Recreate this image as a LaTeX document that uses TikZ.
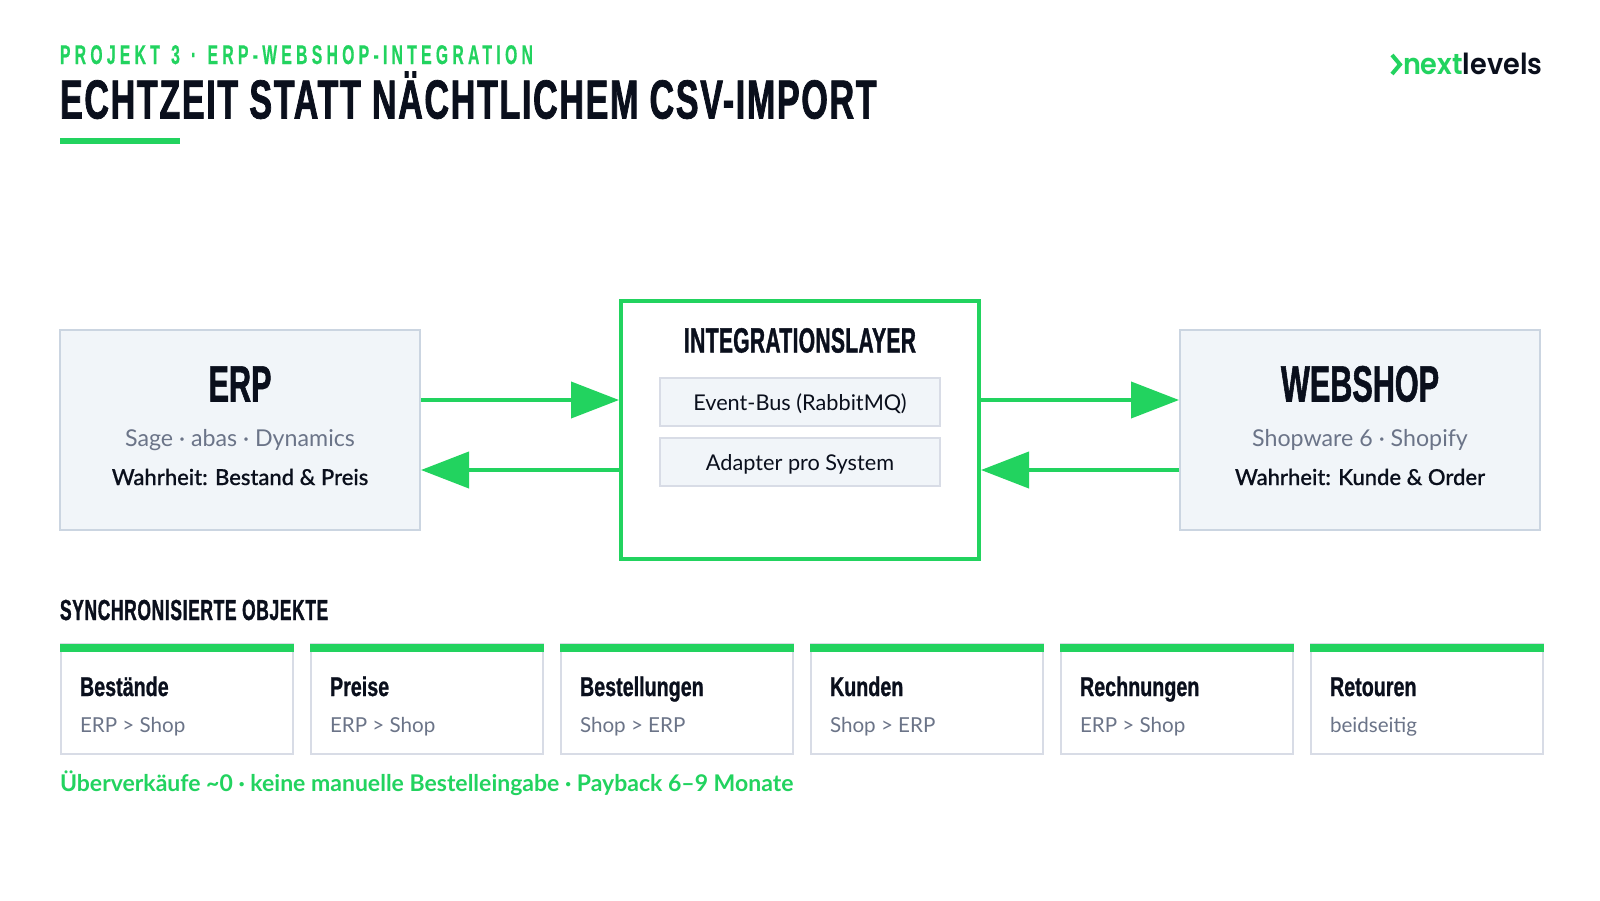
\documentclass[tikz,border=0pt]{standalone}
\usepackage{fontspec}
\usetikzlibrary{arrows.meta}
\setmainfont{Lato}
\newfontfamily\osw[FakeStretch=0.60,FakeBold=1.1]{Liberation Sans Bold}
\newfontfamily\oswtitle[FakeStretch=0.62,FakeBold=1.3,LetterSpace=3.0]{Liberation Sans Bold}
\newfontfamily\oswlayer[FakeStretch=0.60,FakeBold=1.1,LetterSpace=1]{Liberation Sans Bold}
\newfontfamily\oswhead[FakeStretch=0.60,FakeBold=1.1,LetterSpace=2.3]{Liberation Sans Bold}
\newfontfamily\oswcard[FakeStretch=0.73,FakeBold=0.9]{Liberation Sans Bold}
\newfontfamily\oswtop[FakeStretch=0.58,FakeBold=0.5,LetterSpace=16.0,WordSpace=1.3]{Liberation Sans Bold}
\newfontfamily\logofont[FakeStretch=0.935]{Poppins SemiBold}
\newfontfamily\medfont[FakeBold=0.6]{Lato Medium}
\definecolor{brand}{HTML}{22D35F}
\definecolor{ink}{HTML}{0A0F1C}
\definecolor{muted}{HTML}{6B7488}
\definecolor{panel}{HTML}{F1F5F9}
\definecolor{panelline}{HTML}{CBD5E1}
\definecolor{cardline}{HTML}{D8DCE6}
\tikzset{
  txt/.style={inner sep=0pt,outer sep=0pt,anchor=base},
  txtl/.style={inner sep=0pt,outer sep=0pt,anchor=base west},
  sysbox/.style={draw=panelline,fill=panel,line width=2pt,minimum width=360pt,minimum height=200pt,inner sep=0pt},
  layerbox/.style={draw=brand,fill=white,line width=4pt,minimum width=358pt,minimum height=258pt,inner sep=0pt},
  subbox/.style={draw=cardline,fill=panel,line width=2pt,minimum width=280pt,minimum height=48pt,inner sep=0pt},
  card/.style={draw=cardline,fill=white,line width=2pt,minimum width=232pt,minimum height=110pt,inner sep=0pt},
  bar/.style={fill=brand,minimum width=234pt,minimum height=8pt,inner sep=0pt},
  flow/.style={draw=brand,line width=4pt,-{Triangle[length=48pt,width=36pt,fill=brand]}},
  sysname/.style={txt,font=\osw\fontsize{51}{51}\selectfont,text=ink},
  cardname/.style={txtl,font=\oswcard\fontsize{27}{27}\selectfont,text=ink},
  cardsub/.style={txtl,font=\fontsize{20.6}{20.6}\selectfont,text=muted},
  sysgrey/.style={txt,font=\fontsize{23.2}{23.2}\selectfont,text=muted},
  sysblack/.style={txt,font=\medfont\fontsize{22}{22}\selectfont,text=ink},
  subtext/.style={txt,font=\fontsize{21.7}{21.7}\selectfont,text=ink},
}
\begin{document}
\begin{tikzpicture}[x=1pt,y=-1pt]
\useasboundingbox (0,0) rectangle (1600,900);
\fill[white] (0,0) rectangle (1600,900);
% header
\node[txtl,font=\oswtop\fontsize{27}{27}\selectfont,text=brand] (eyebrow) at (60,64) {PROJEKT 3 · ERP-WEBSHOP-INTEGRATION};
\node[txtl,font=\oswtitle\fontsize{55}{55}\selectfont,text=ink] (title) at (60,118.5) {ECHTZEIT STATT NÄCHTLICHEM CSV-IMPORT};
\fill[brand] (60,138) rectangle (180,144);
% logo
\draw[brand,line width=4pt,miter limit=10] (1392,55) -- (1400,64.5) -- (1392,74);
\node[txtl,font=\logofont\fontsize{29}{29}\selectfont,text=brand] (lognext) at (1403,74.5) {next};
\node[txtl,font=\logofont\fontsize{29}{29}\selectfont,text=ink] (loglev) at (lognext.base east) {levels};
% main boxes
\node[sysbox] (erp) at (240,430) {};
\node[layerbox] (layer) at (800,430) {};
\node[sysbox] (shop) at (1360,430) {};
\node[subbox] (bus) at (800,402) {};
\node[subbox] (adapter) at (800,462) {};
\node[sysname] (erpname) at (240,401.5) {ERP};
\node[sysgrey] (erpsub) at (240,446) {Sage · abas · Dynamics};
\node[sysblack] (erptruth) at (240,485) {Wahrheit: Bestand \& Preis};
\node[sysname] (shopname) at (1360,401.5) {WEBSHOP};
\node[sysgrey] (shopsub) at (1360,446) {Shopware 6 · Shopify};
\node[sysblack] (shoptruth) at (1360,485) {Wahrheit: Kunde \& Order};
\node[txt,font=\oswlayer\fontsize{35}{35}\selectfont,text=ink] (layername) at (800,352.5) {INTEGRATIONSLAYER};
\node[subtext] (bustext) at (800,410.5) {Event-Bus (RabbitMQ)};
\node[subtext] (adaptertext) at (800,470.5) {Adapter pro System};
% connectors
\coordinate (upper) at (0,400);
\coordinate (lower) at (0,470);
\draw[flow] (erp.east |- upper) -- (layer.west |- upper);
\draw[flow] (layer.west |- lower) -- (erp.east |- lower);
\draw[flow] (layer.east |- upper) -- (shop.west |- upper);
\draw[flow] (shop.west |- lower) -- (layer.east |- lower);
% objects
\node[txtl,font=\oswhead\fontsize{29}{29}\selectfont,text=ink] (objhead) at (60,620) {SYNCHRONISIERTE OBJEKTE};
\foreach \n/\x/\a/\b in {a/60/Bestände/ERP > Shop,b/310/Preise/ERP > Shop,c/560/Bestellungen/Shop > ERP,d/810/Kunden/Shop > ERP,e/1060/Rechnungen/ERP > Shop,f/1310/Retouren/beidseitig}{
  \node[card] (card\n) at (\x+117,699) {};
  \node[bar] (bar\n) at (\x+117,648) {};
  \node[cardname] (name\n) at (\x+20,696) {\a};
  \node[cardsub] (sub\n) at (\x+20,732.5) {\b};
}
\node[txtl,font=\bfseries\fontsize{23}{23}\selectfont,text=brand] (footer) at (60,791) {Überverkäufe \textasciitilde0 · keine manuelle Bestelleingabe · Payback 6–9 Monate};
\end{tikzpicture}
\end{document}
